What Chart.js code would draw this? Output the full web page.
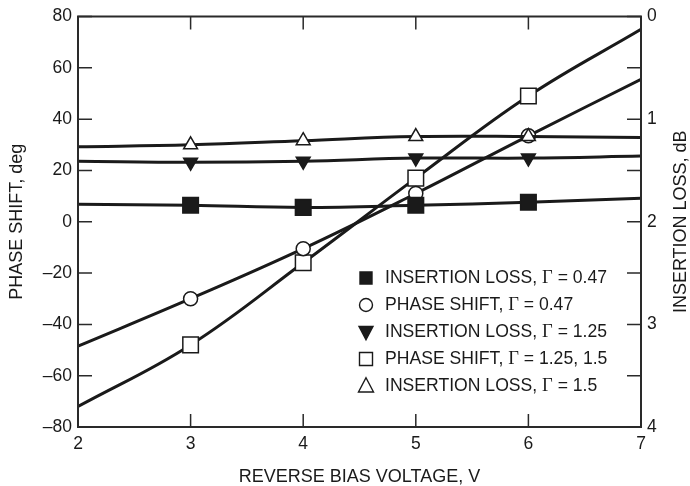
<!DOCTYPE html>
<html>
<head>
<meta charset="utf-8">
<script src="https://cdn.jsdelivr.net/npm/chart.js@4.4.0/dist/chart.umd.min.js"></script>
<style>
html, body { margin: 0; padding: 0; background: #fff; }
#wrap { width: 690px; height: 486px; }
</style>
</head>
<body>
<div id="wrap"><canvas id="chart" width="690" height="486"></canvas></div>
<script>
// reverse bias voltage, V (curves run 2..7, markers at 3..6)
const voltage = [2, 3, 4, 5, 6, 7];
// insertion loss, dB (right axis)
const lossG047 = [1.83, 1.84, 1.86, 1.84, 1.81, 1.77];
const lossG125 = [1.41, 1.42, 1.41, 1.38, 1.38, 1.36];
const lossG15 = [1.27, 1.25, 1.21, 1.17, 1.17, 1.18];
// phase shift, deg (left axis)
const phaseG047 = [-48.5, -30, -10.5, 11, 33.5, 55.5];
const phaseG125 = [-72, -48, -16, 17, 49, 75];

const legendLabels = [
    ['INSERTION LOSS, ', 'Γ', ' = 0.47'],
    ['PHASE SHIFT, ', 'Γ', ' = 0.47'],
    ['INSERTION LOSS, ', 'Γ', ' = 1.25'],
    ['PHASE SHIFT, ', 'Γ', ' = 1.25, 1.5'],
    ['INSERTION LOSS, ', 'Γ', ' = 1.5']
];

const FONT = '"Liberation Sans", Arial, sans-serif';
const INK = '#1a1a1a';

function pts(ys) {
    return voltage.map((x, i) => ({x: x, y: ys[i]}));
}
function radii(r) {
    return voltage.map((x, i) => (i === 0 || i === voltage.length - 1) ? 0 : r);
}

function series(ys, axis, style, filled, r, rot, order) {
    return {
        data: pts(ys),
        yAxisID: axis,
        order: order,
        borderColor: INK,
        borderWidth: 3,
        tension: 0.4,
        pointStyle: style,
        pointRotation: rot || 0,
        pointRadius: radii(r),
        pointHoverRadius: radii(r),
        pointBackgroundColor: filled ? INK : '#fff',
        pointBorderColor: INK,
        pointBorderWidth: 1.5
    };
}

function marker(ctx, kind, x, y, s) {
    ctx.beginPath();
    if (kind === 'rect') {
        ctx.rect(x - s / 2, y - s / 2, s, s);
    } else if (kind === 'circle') {
        ctx.arc(x, y, s / 2, 0, Math.PI * 2);
    } else if (kind === 'up') {
        ctx.moveTo(x, y - s * 0.55);
        ctx.lineTo(x + s / 2, y + s * 0.4);
        ctx.lineTo(x - s / 2, y + s * 0.4);
        ctx.closePath();
    } else {
        ctx.moveTo(x, y + s * 0.55);
        ctx.lineTo(x + s / 2, y - s * 0.4);
        ctx.lineTo(x - s / 2, y - s * 0.4);
        ctx.closePath();
    }
}

const decor = {
    id: 'decor',
    afterDraw(chart) {
        const ctx = chart.ctx;
        const a = chart.chartArea;
        const sx = chart.scales.x, sy = chart.scales.y, sy2 = chart.scales.y2;
        ctx.save();
        ctx.strokeStyle = '#2a2a2a';
        ctx.lineWidth = 2;
        ctx.strokeRect(a.left, a.top, a.right - a.left, a.bottom - a.top);

        // inward tick marks
        ctx.lineWidth = 1.5;
        ctx.beginPath();
        sy.ticks.forEach(t => {
            const p = sy.getPixelForValue(t.value);
            ctx.moveTo(a.left, p); ctx.lineTo(a.left + 14, p);
        });
        sy2.ticks.forEach(t => {
            const p = sy2.getPixelForValue(t.value);
            ctx.moveTo(a.right, p); ctx.lineTo(a.right - 14, p);
        });
        sx.ticks.forEach(t => {
            const p = sx.getPixelForValue(t.value);
            ctx.moveTo(p, a.bottom); ctx.lineTo(p, a.bottom - 13);
            ctx.moveTo(p, a.top); ctx.lineTo(p, a.top + 13);
        });
        ctx.stroke();

        // right axis title, reading bottom to top
        ctx.fillStyle = INK;
        ctx.font = '18px ' + FONT;
        ctx.textAlign = 'center';
        ctx.textBaseline = 'middle';
        ctx.translate(681, (a.top + a.bottom) / 2);
        ctx.rotate(-Math.PI / 2);
        ctx.fillText('INSERTION LOSS, dB', 0, 0);
        ctx.restore();

        // legend inside the plot
        const kinds = [['rect', true, 12], ['circle', false, 13], ['down', true, 14], ['rect', false, 13], ['up', false, 15]];
        const rows = [278, 305, 332, 359, 386];
        ctx.save();
        ctx.textBaseline = 'middle';
        ctx.textAlign = 'left';
        legendLabels.forEach((parts, i) => {
            const [kind, filled, s] = kinds[i];
            const y = rows[i];
            marker(ctx, kind, 366, y, s);
            ctx.lineWidth = 1.4;
            ctx.strokeStyle = INK;
            ctx.fillStyle = filled ? INK : '#fff';
            ctx.fill();
            ctx.stroke();
            let x = 385;
            ctx.fillStyle = INK;
            parts.forEach((txt, j) => {
                ctx.font = (j === 1 ? '18.5px "Liberation Serif", serif' : '17.6px ' + FONT);
                ctx.fillText(txt, x, y);
                x += ctx.measureText(txt).width;
            });
        });
        ctx.restore();
    }
};

new Chart(document.getElementById('chart').getContext('2d'), {
    type: 'line',
    data: {
        datasets: [
            series(lossG047, 'y2', 'rect', true, 11, 0, 1),
            series(phaseG047, 'y', 'circle', false, 7, 0, 2),
            series(lossG125, 'y2', 'triangle', true, 8, 180, 3),
            series(phaseG125, 'y', 'rect', false, 11, 0, 4),
            series(lossG15, 'y2', 'triangle', false, 8, 0, 0)
        ]
    },
    options: {
        responsive: false,
        animation: false,
        events: [],
        layout: {padding: {top: 15, left: 0, right: 0, bottom: 0}},
        plugins: {legend: {display: false}, tooltip: {enabled: false}},
        scales: {
            x: {
                type: 'linear',
                min: 2,
                max: 7,
                grid: {display: false, drawTicks: false},
                border: {display: false},
                ticks: {stepSize: 1, padding: 7, color: INK, font: {family: FONT, size: 17.5}},
                title: {
                    display: true,
                    text: 'REVERSE BIAS VOLTAGE, V',
                    color: INK,
                    font: {family: FONT, size: 18, lineHeight: 1},
                    padding: {top: 0, bottom: 0}
                },
                afterFit(s) { s.height = 59; }
            },
            y: {
                position: 'left',
                min: -80,
                max: 80,
                grid: {display: false, drawTicks: false},
                border: {display: false},
                ticks: {
                    stepSize: 20,
                    padding: 6,
                    color: INK,
                    font: {family: FONT, size: 17.5},
                    callback: v => String(v).replace('-', '\u2013')
                },
                title: {
                    display: true,
                    text: 'PHASE SHIFT, deg',
                    color: INK,
                    font: {family: FONT, size: 18, lineHeight: 1},
                    padding: {top: 8, bottom: 0}
                },
                afterFit(s) { s.width = 78; }
            },
            y2: {
                position: 'right',
                min: 0,
                max: 4,
                reverse: true,
                grid: {display: false, drawTicks: false},
                border: {display: false},
                ticks: {
                    stepSize: 0.5,
                    padding: 6,
                    color: INK,
                    font: {family: FONT, size: 17.5},
                    callback: v => Number.isInteger(v) ? String(v) : ''
                },
                afterFit(s) { s.width = 49; }
            }
        }
    },
    plugins: [decor]
});
</script>
</body>
</html>
